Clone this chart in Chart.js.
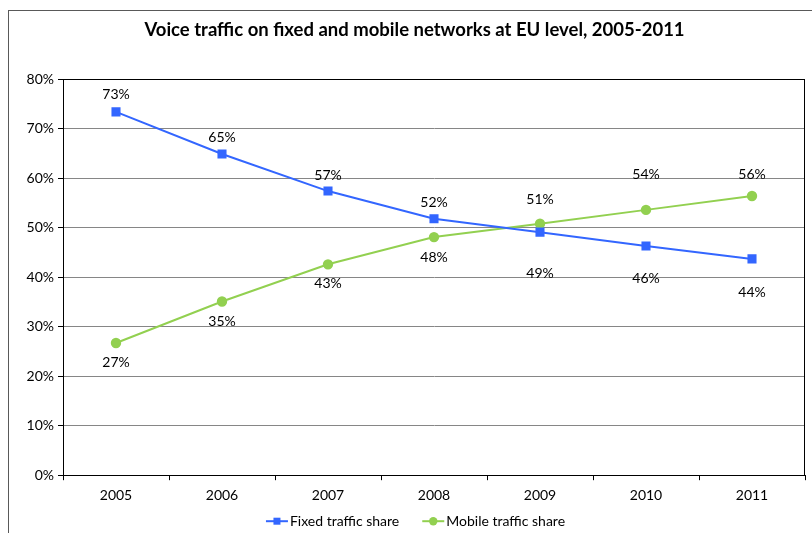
<!DOCTYPE html>
<html>
<head>
<meta charset="utf-8">
<script src="https://cdn.jsdelivr.net/npm/chart.js@4.4.0/dist/chart.umd.min.js"></script>
<style>
  body { margin: 0; background: #fff; }
  #wrap { width: 812px; height: 533px; }
</style>
</head>
<body>
<div id="wrap"><canvas id="chart" width="812" height="533"></canvas></div>
<script>
const years = ['2005', '2006', '2007', '2008', '2009', '2010', '2011'];
const fixedShare = [73.4, 64.9, 57.4, 51.8, 49.1, 46.3, 43.7];
const mobileShare = [26.7, 35.1, 42.6, 48.1, 50.8, 53.6, 56.4];
const yTicks = [0, 10, 20, 30, 40, 50, 60, 70, 80];

const FONT = 'Lato, "Open Sans", sans-serif';
const BLUE = '#3366ff';
const GREEN = '#92d050';

// frame around the whole chart and around the plot area
const frames = {
  id: 'frames',
  beforeDraw(chart) {
    const ctx = chart.ctx;
    ctx.save();
    ctx.strokeStyle = '#595959';
    ctx.lineWidth = 1;
    ctx.strokeRect(8.5, 10.5, 900, 600);
    ctx.restore();
  },
  beforeDatasetsDraw(chart) {
    const a = chart.chartArea, ctx = chart.ctx;
    ctx.save();
    ctx.strokeStyle = '#000';
    ctx.lineWidth = 1;
    ctx.strokeRect(Math.round(a.left) + 0.5, Math.round(a.top) + 0.5,
      Math.round(a.right - a.left) - 1, Math.round(a.bottom - a.top));
    ctx.restore();
  }
};

// value labels next to each point
const valueLabels = {
  id: 'valueLabels',
  afterDatasetsDraw(chart) {
    const ctx = chart.ctx;
    ctx.save();
    ctx.font = '14px ' + FONT;
    ctx.fillStyle = '#000';
    ctx.textAlign = 'center';
    ctx.textBaseline = 'middle';
    chart.data.datasets.forEach((ds, i) => {
      chart.getDatasetMeta(i).data.forEach((pt, j) => {
        ctx.fillText(Math.round(ds.data[j]) + '%', pt.x, pt.y + ds.labelShift[j]);
      });
    });
    ctx.restore();
  }
};

// Excel style legend: line with marker, then the series name
const lineLegend = {
  id: 'lineLegend',
  afterDraw(chart) {
    const ctx = chart.ctx;
    const lineLen = 22, textGap = 2, itemGap = 23;
    ctx.save();
    ctx.font = '14px ' + FONT;
    const items = chart.data.datasets.map(ds => ({ ds, w: lineLen + textGap + ctx.measureText(ds.label).width }));
    const total = items.reduce((s, it) => s + it.w, 0) + itemGap * (items.length - 1);
    const tb = chart.titleBlock;
    let x = tb.left + tb.width / 2 - total / 2 + 1;
    const y = chart.chartArea.bottom + 46;
    items.forEach(({ ds, w }) => {
      ctx.strokeStyle = ds.borderColor;
      ctx.fillStyle = ds.borderColor;
      ctx.lineWidth = 2;
      ctx.beginPath(); ctx.moveTo(x, y); ctx.lineTo(x + lineLen, y); ctx.stroke();
      const cx = x + lineLen / 2;
      if (ds.pointStyle === 'rect') ctx.fillRect(cx - 3.5, y - 3.5, 7, 7);
      else { ctx.beginPath(); ctx.arc(cx, y, 4.2, 0, Math.PI * 2); ctx.fill(); }
      ctx.fillStyle = '#000';
      ctx.textAlign = 'left';
      ctx.textBaseline = 'middle';
      ctx.fillText(ds.label, x + lineLen + textGap, y);
      x += w + itemGap;
    });
    ctx.restore();
  }
};

new Chart(document.getElementById('chart'), {
  type: 'line',
  data: {
    labels: years,
    datasets: [{
      label: 'Fixed traffic share',
      data: fixedShare,
      borderColor: BLUE,
      backgroundColor: BLUE,
      borderWidth: 2,
      pointStyle: 'rect',
      pointRadius: 5,
      tension: 0,
      labelShift: [-17, -16, -16, -16, 41, 32, 34]
    }, {
      label: 'Mobile traffic share',
      data: mobileShare,
      borderColor: GREEN,
      backgroundColor: GREEN,
      borderWidth: 2,
      pointStyle: 'circle',
      pointRadius: 4.2,
      tension: 0,
      labelShift: [19, 20, 19, 20, -24, -35, -22]
    }]
  },
  options: {
    responsive: false,
    animation: false,
    layout: { padding: { left: 24, right: 7, top: 10, bottom: 22 } },
    scales: {
      x: {
        offset: true,
        grid: { offset: true, drawOnChartArea: false, drawTicks: true, tickLength: 5, color: '#000' },
        border: { color: '#000' },
        ticks: { color: '#000', font: { family: FONT, size: 14 }, padding: 7 }
      },
      y: {
        min: 0, max: 80,
        afterFit(scale) { scale.width = 39; },
        afterBuildTicks(scale) { scale.ticks = yTicks.map(v => ({ value: v })); },
        grid: { color: '#868686', tickLength: 5, tickColor: '#000' },
        border: { color: '#000' },
        ticks: { color: '#000', font: { family: FONT, size: 14 }, padding: 4, callback: v => v + '%' }
      }
    },
    plugins: {
      title: {
        display: true,
        text: 'Voice traffic on fixed and mobile networks at EU level, 2005-2011',
        color: '#000',
        font: { family: FONT, size: 18.5, weight: 'bold' },
        padding: { top: 9, bottom: 38 }
      },
      legend: { display: false },
      tooltip: { enabled: false }
    }
  },
  plugins: [frames, valueLabels, lineLegend]
});
</script>
</body>
</html>
